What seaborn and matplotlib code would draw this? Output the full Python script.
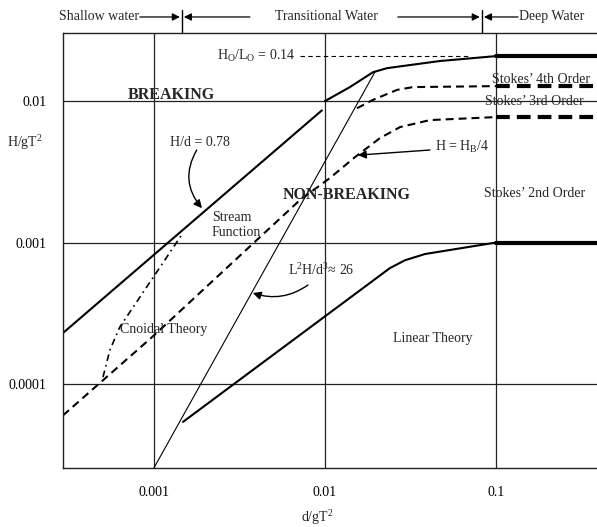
import matplotlib
matplotlib.use("Agg")
import matplotlib.pyplot as plt
import seaborn as sns

# ---------------- DATA (d/gT^2 vs H/gT^2) ----------------
# H/d = 0.78 breaking limit in shallow water
hd_x = [2.7e-4, 9.6e-3]
hd_y = [2.1e-4, 8.6e-3]

# breaking limit curve up to H0/L0 = 0.14
steep_x = [0.01, 0.014, 0.0191, 0.0231, 0.047, 0.1]
steep_y = [0.01, 0.01256, 0.016, 0.0171, 0.0192, 0.0208]

# Stokes 3rd / 4th order boundary
stokes4_x = [0.0154, 0.0191, 0.0264, 0.0327, 0.1]
stokes4_y = [0.0089, 0.0102, 0.0120, 0.01256, 0.01276]

# H = HB/4
hb4_x = [2.94e-4, 9.9e-4, 7.15e-3, 0.0107, 0.015, 0.021, 0.0275, 0.0411, 0.1]
hb4_y = [6.0e-5, 2.18e-4, 2.0e-3, 2.86e-3, 4.02e-3, 5.48e-3, 6.55e-3, 7.34e-3, 7.71e-3]

# cnoidal / stream function boundary
cnoidal_x = [5.04e-4, 5.53e-4, 6.32e-4, 1.48e-3]
cnoidal_y = [1.12e-4, 1.74e-4, 2.53e-4, 1.17e-3]

# L^2H/d^3 = 26
ursell_x = [0.001, 0.0197]
ursell_y = [2.55e-5, 0.0162]

# linear / Stokes 2nd order boundary
linear_x = [1.48e-3, 0.024, 0.0294, 0.0385, 0.1]
linear_y = [5.4e-5, 6.6e-4, 7.5e-4, 8.3e-4, 0.001]

# deep water extension of the three limits
deep_x = [0.1, 0.45]
steep_deep = 0.0208
stokes4_deep = 0.01276
hb4_deep = 7.71e-3
linear_deep = 0.001

h0l0_x = [7.15e-3, 0.0695]

# water depth regions
regions = ["Shallow water", "Transitional Water", "Deep Water"]
region_bounds = [0.00146, 0.0828]

x_ticks = [0.001, 0.01, 0.1]
x_ticklabels = ["0.001", "0.01", "0.1"]
y_ticks = [0.0001, 0.001, 0.01]
y_ticklabels = ["0.0001", "0.001", "0.01"]

# ---------------- STYLE ----------------
sns.set_theme(style="white")
plt.rcParams["font.family"] = ["Liberation Serif", "DejaVu Serif"]
plt.rcParams["mathtext.default"] = "regular"
plt.rcParams["mathtext.fontset"] = "custom"
plt.rcParams["mathtext.rm"] = "Liberation Serif"

fig = plt.figure(figsize=(5.97, 5.27), dpi=100)
ax = fig.add_axes([0.1055, 0.112, 0.8945, 0.8254])
ax.set_xscale("log")
ax.set_yscale("log")
ax.set_xlim(2.94e-4, 0.39)
ax.set_ylim(2.55e-5, 0.0303)

k = "black"
dash = (0, (3.8, 2.4))
thick_dash = (0, (3.3, 1.7))

sns.lineplot(x=hd_x, y=hd_y, ax=ax, color=k, lw=1.5, sort=False, estimator=None)
sns.lineplot(x=steep_x, y=steep_y, ax=ax, color=k, lw=1.5, sort=False, estimator=None)
sns.lineplot(x=deep_x, y=[steep_deep] * 2, ax=ax, color=k, lw=3, estimator=None)

sns.lineplot(x=stokes4_x, y=stokes4_y, ax=ax, color=k, lw=1.5, ls=dash, sort=False, estimator=None)
sns.lineplot(x=deep_x, y=[stokes4_deep] * 2, ax=ax, color=k, lw=3, ls=thick_dash, estimator=None)

sns.lineplot(x=hb4_x, y=hb4_y, ax=ax, color=k, lw=1.5, ls=dash, sort=False, estimator=None)
sns.lineplot(x=deep_x, y=[hb4_deep] * 2, ax=ax, color=k, lw=3, ls=thick_dash, estimator=None)

sns.lineplot(x=cnoidal_x, y=cnoidal_y, ax=ax, color=k, lw=1.2, ls=(0, (4, 2.5, 1, 2.5)),
             sort=False, estimator=None)
sns.lineplot(x=ursell_x, y=ursell_y, ax=ax, color=k, lw=0.8, sort=False, estimator=None)

sns.lineplot(x=linear_x, y=linear_y, ax=ax, color=k, lw=1.5, sort=False, estimator=None)
sns.lineplot(x=deep_x, y=[linear_deep] * 2, ax=ax, color=k, lw=3, estimator=None)

sns.lineplot(x=h0l0_x, y=[steep_deep] * 2, ax=ax, color=k, lw=0.8, ls=(0, (4, 3)), estimator=None)

# ---------------- AXES ----------------
ax.set_xticks(x_ticks)
ax.set_xticklabels(x_ticklabels)
ax.set_yticks(y_ticks)
ax.set_yticklabels(y_ticklabels)
ax.minorticks_off()
ax.tick_params(axis="x", length=0, pad=13, labelsize=10, colors=k)
ax.tick_params(axis="y", length=0, pad=12, labelsize=10, colors=k)
ax.grid(True, which="major", color="#222222", lw=0.9)
for side in ["left", "top", "bottom"]:
    ax.spines[side].set_color("#222222")
    ax.spines[side].set_linewidth(1.0)
ax.spines["right"].set_visible(False)

ax.text(-0.071, 0.747, "H/gT$^2$", transform=ax.transAxes, fontsize=10, ha="center", va="center")
ax.text(0.476, -0.115, "d/gT$^2$", transform=ax.transAxes, fontsize=10, ha="center", va="center")

# ---------------- LABELS ----------------
fs = 10
ax.text(6.68e-3, steep_deep, "H$_O$/L$_O$ = 0.14", fontsize=fs, ha="right", va="center")
ax.text(1.27e-3, 0.011, "BREAKING", fontsize=11.5, fontweight="bold", ha="center", va="center")
ax.text(0.01346, 2.17e-3, "NON-BREAKING", fontsize=11.5, fontweight="bold", ha="center", va="center")
ax.text(1.86e-3, 5.13e-3, "H/d = 0.78", fontsize=fs, ha="center", va="center")
ax.text(2.18e-3, 1.33e-3, "Stream\nFunction", fontsize=fs, ha="left", va="center", linespacing=1.2)
ax.text(0.0632, 4.73e-3, "H = H$_B$/4", fontsize=fs, ha="center", va="center")
ax.text(0.183, 0.01429, "Stokes\u2019 4th Order", fontsize=fs, ha="center", va="center")
ax.text(0.1667, 0.0100, "Stokes\u2019 3rd Order", fontsize=fs, ha="center", va="center")
ax.text(0.169, 2.24e-3, "Stokes\u2019 2nd Order", fontsize=fs, ha="center", va="center")
ax.text(9.49e-3, 6.39e-4, "L$^2$H/d$^3$\u2248 26", fontsize=fs, ha="center", va="center")
ax.text(1.14e-3, 2.41e-4, "Cnoidal Theory", fontsize=fs, ha="center", va="center")
ax.text(0.0428, 2.11e-4, "Linear Theory", fontsize=fs, ha="center", va="center")

arrow = dict(arrowstyle="-|>", color=k, lw=1.0, mutation_scale=12, shrinkA=0, shrinkB=0)
ax.annotate("", xy=(1.91e-3, 1.75e-3), xytext=(1.78e-3, 4.51e-3),
            arrowprops=dict(arrow, connectionstyle="arc3,rad=0.35"))
ax.annotate("", xy=(0.0156, 4.15e-3), xytext=(0.0411, 4.51e-3), arrowprops=arrow)
ax.annotate("", xy=(3.79e-3, 4.40e-4), xytext=(7.96e-3, 5.01e-4),
            arrowprops=dict(arrow, connectionstyle="arc3,rad=-0.25"))

# ---------------- WATER DEPTH HEADER ----------------
hy = 1.0368
tr = ax.get_xaxis_transform()
for b in region_bounds:
    ax.plot([b, b], [1.0, 1.053], color=k, lw=1.0, transform=tr, clip_on=False)

head = dict(arrowstyle="-|>", color=k, lw=0.9, mutation_scale=11, shrinkA=0, shrinkB=0)
hdr = dict(xycoords=("data", "axes fraction"), annotation_clip=False)
ax.annotate("", xy=(1.419e-3, hy), xytext=(8.28e-4, hy), arrowprops=head, **hdr)
ax.annotate("", xy=(1.497e-3, hy), xytext=(3.64e-3, hy), arrowprops=head, **hdr)
ax.annotate("", xy=(0.0805, hy), xytext=(0.0267, hy), arrowprops=head, **hdr)
ax.annotate("", xy=(0.0851, hy), xytext=(0.1346, hy), arrowprops=head, **hdr)

ax.text(8.2e-4, hy, regions[0], transform=tr, fontsize=fs, ha="right", va="center")
ax.text(0.01014, hy, regions[1], transform=tr, fontsize=fs, ha="center", va="center")
ax.text(0.1365, hy, regions[2], transform=tr, fontsize=fs, ha="left", va="center")

plt.savefig("out.png", dpi=100)
